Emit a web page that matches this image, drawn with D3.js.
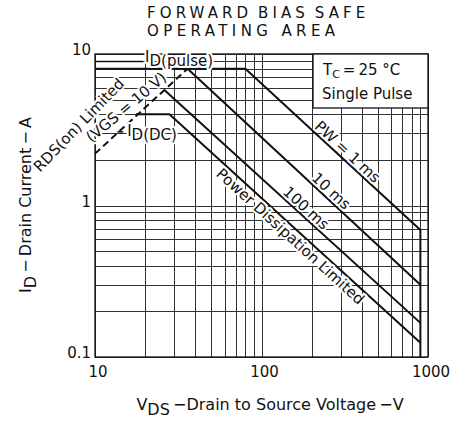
<!DOCTYPE html>
<html lang="en">
<head>
<meta charset="UTF-8">
<title>forward bias safe operating area</title>
<script src="https://d3js.org/d3.v7.min.js"></script>
<style>
  body { margin: 0; background: #fff; }
  svg { display: block; font-family: "DejaVu Sans", "Liberation Sans", sans-serif; fill: #111; }
  .grid { stroke: #333; stroke-width: 1; shape-rendering: crispEdges; }
  .frame { fill: none; stroke: #111; stroke-width: 1.3; }
  .limit { fill: none; stroke: #111; stroke-width: 2; }
  .halo { paint-order: stroke; stroke: #fff; stroke-width: 4; stroke-linejoin: round; }
</style>
</head>
<body>
<svg width="467" height="421"></svg>
<script>
// axis ticks
const xTicks = [10, 100, 1000];
const yTicks = [0.1, 1, 10];
const xTickLabels = ["10", "100", "1000"];
const yTickLabels = ["0.1", "1", "10"];

// limit curves, points are [V, A]
const pulseLimit = [[10, 8], [80, 8]];
const rdsLimit = [[10, 2.2], [36, 8]];
const pw1ms = [[80, 8], [900, 0.69], [900, 0.1]];
const pw10ms = [[36, 8], [900, 0.30]];
const pw100ms = [[26, 5.8], [900, 0.168]];
const dcLimit = [[17.6, 4], [28, 4], [900, 0.124]];

// line labels: which curve, voltage along it, baseline offset from the line
const lineLabels = [
  { text: "PW = 1 ms", along: pw1ms.slice(0, 2), v: 305, off: -3 },
  { text: "10 ms", along: pw10ms, v: 243, off: -3 },
  { text: "100 ms", along: pw100ms, v: 172, off: -3 },
  { text: "Power Dissipation Limited", along: dcLimit.slice(1), v: 162, off: 14 },
  { text: "(VGS = 10 V)", along: rdsLimit, v: 17.3, off: -8, rot: -40 },
  { text: "RDS(on) Limited", along: rdsLimit, v: 11.0, off: -27, rot: -46 }
];

let svg = d3.select("svg");

let x = d3.scaleLog().domain([10, 1000]).range([95, 428]);
let y = d3.scaleLog().domain([0.1, 10]).range([357, 54]);

// grid
svg.append("g").selectAll("line").data(x.ticks()).join("line")
  .attr("class", "grid")
  .attr("x1", d => Math.round(x(d)) + 0.5).attr("x2", d => Math.round(x(d)) + 0.5)
  .attr("y1", y(10)).attr("y2", y(0.1));
svg.append("g").selectAll("line").data(y.ticks()).join("line")
  .attr("class", "grid")
  .attr("y1", d => Math.round(y(d)) + 0.5).attr("y2", d => Math.round(y(d)) + 0.5)
  .attr("x1", x(10)).attr("x2", x(1000));

svg.append("rect").attr("class", "frame")
  .attr("x", x(10)).attr("y", y(10))
  .attr("width", x(1000) - x(10)).attr("height", y(0.1) - y(10));

let line = d3.line().x(d => x(d[0])).y(d => y(d[1]));

[pulseLimit, pw1ms, pw10ms, pw100ms, dcLimit].forEach(p => {
  svg.append("path").attr("class", "limit").attr("d", line(p));
});
svg.append("path").attr("class", "limit").attr("d", line(rdsLimit))
  .attr("stroke-width", 1.5).attr("stroke-dasharray", "7,4");

// tick labels
svg.append("g").selectAll("text").data(xTicks).join("text")
  .attr("x", d => x(d) + 3).attr("y", 377)
  .attr("text-anchor", "middle").attr("font-size", 15)
  .text((d, i) => xTickLabels[i]);
svg.append("g").selectAll("text").data(yTicks).join("text")
  .attr("x", 91).attr("y", d => y(d) + 1)
  .attr("text-anchor", "end").attr("font-size", 15)
  .text((d, i) => yTickLabels[i]);

// labels along the limit lines
lineLabels.forEach(l => {
  let a = l.along[0], b = l.along[1];
  let t = (Math.log(l.v) - Math.log(a[0])) / (Math.log(b[0]) - Math.log(a[0]));
  let cur = Math.exp(Math.log(a[1]) + t * (Math.log(b[1]) - Math.log(a[1])));
  let ang = l.rot !== undefined ? l.rot
    : Math.atan2(y(b[1]) - y(a[1]), x(b[0]) - x(a[0])) * 180 / Math.PI;
  svg.append("text")
    .attr("class", "halo")
    .attr("transform", `translate(${x(l.v)},${y(cur)}) rotate(${ang})`)
    .attr("text-anchor", "middle").attr("y", l.off)
    .attr("font-size", 15)
    .text(l.text);
});

// I_D(pulse) and I_D(DC)
function subLabel(px, py, main, sub) {
  let t = svg.append("text").attr("class", "halo")
    .attr("x", px).attr("y", py).attr("font-size", 15);
  t.append("tspan").text(main);
  t.append("tspan").attr("dy", 4).text(sub);
  return t;
}
svg.append("line").attr("x1", x(10)).attr("x2", x(20) - 2)
  .attr("y1", y(9) + 0.5).attr("y2", y(9) + 0.5).attr("stroke", "#111").attr("stroke-width", 1.5);
subLabel(x(20), y(8.85), "I", "D(pulse)");
svg.append("line").attr("x1", x(15) - 7).attr("x2", x(15) - 1)
  .attr("y1", y(2.71) - 8).attr("y2", y(2.71) - 8).attr("stroke", "#111").attr("stroke-width", 1.5);
subLabel(x(15.6), y(2.71) - 4, "I", "D(DC)");

// condition box
let bx = 313, by = y(10), bw = x(1000) - 313, bh = 54;
svg.append("rect").attr("x", bx).attr("y", by).attr("width", bw).attr("height", bh)
  .attr("fill", "#fff").attr("stroke", "#111").attr("stroke-width", 1.3);
let tc = svg.append("text").attr("x", bx + 10).attr("y", by + 21).attr("font-size", 15);
tc.append("tspan").text("T");
tc.append("tspan").attr("dy", 3).attr("font-size", 11).text("C");
tc.append("tspan").attr("dy", -3).text("\u2009=\u200925 \u00b0C");
svg.append("text").attr("x", bx + 9).attr("y", by + 45).attr("font-size", 15).text("Single Pulse");

// title
svg.append("text").attr("x", 147).attr("y", 18).attr("font-size", 15)
  .attr("letter-spacing", 4.1).attr("word-spacing", -3).text("FORWARD BIAS SAFE");
svg.append("text").attr("x", 147).attr("y", 36).attr("font-size", 15)
  .attr("letter-spacing", 4.4).text("OPERATING AREA");

// axis titles
let xt = svg.append("text").attr("x", 270).attr("y", 410)
  .attr("text-anchor", "middle").attr("font-size", 16);
xt.append("tspan").text("V");
xt.append("tspan").attr("dy", 5).text("DS");
xt.append("tspan").attr("dy", -5).text("\u2009\u2212Drain to Source Voltage\u2009\u2212V");

let yt = svg.append("text").attr("transform", "translate(31,205) rotate(-90)")
  .attr("text-anchor", "middle").attr("font-size", 16);
yt.append("tspan").text("I");
yt.append("tspan").attr("dy", 5).text("D");
yt.append("tspan").attr("dy", -5).text("\u2009\u2212\u2009Drain Current\u2009\u2212\u2009A");
</script>
</body>
</html>
